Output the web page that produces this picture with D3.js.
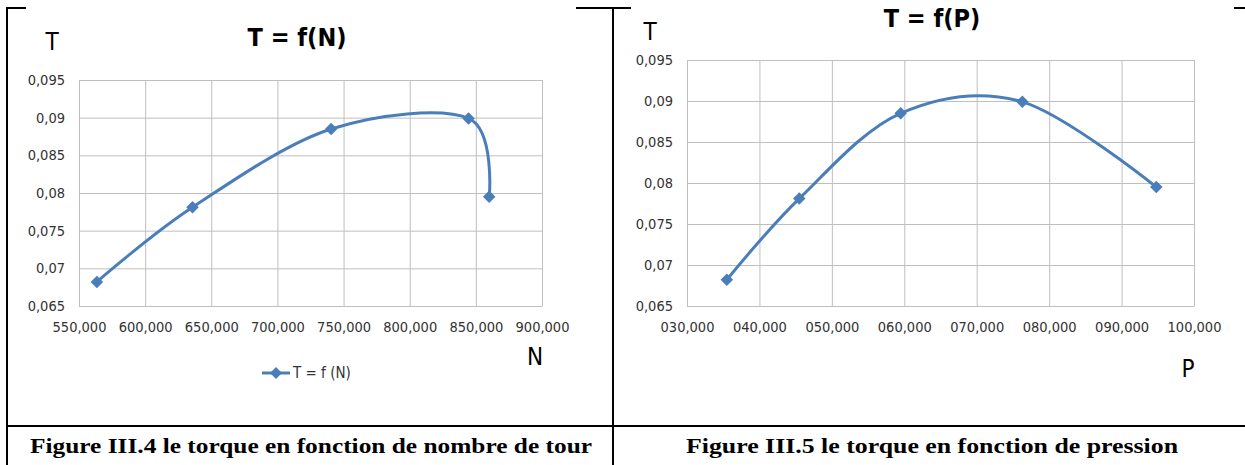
<!DOCTYPE html>
<html>
<head>
<meta charset="utf-8">
<script src="https://cdn.jsdelivr.net/npm/d3@7"></script>
<style>
  body { margin: 0; background: #fff; }
  svg { display: block; }
  .tick text { font-family: "DejaVu Sans Condensed", "Liberation Sans Narrow", sans-serif; font-size: 14.5px; fill: #333; }
</style>
</head>
<body>
<svg width="1245" height="465"></svg>
<script>
// values
const nValues = [563.5, 635.8, 740.6, 844.5, 860.1];   // N (tours)
const pValues = [35.5, 45.5, 59.5, 76.3, 94.8];        // P (pression)
const tValues = [0.0682, 0.0781, 0.0885, 0.0899, 0.0795]; // T (torque)
const nTicks = [550, 600, 650, 700, 750, 800, 850, 900];
const pTicks = [30, 40, 50, 60, 70, 80, 90, 100];
const tTicks = [0.065, 0.07, 0.075, 0.08, 0.085, 0.09, 0.095];
const captions = ["Figure III.4 le torque en fonction de nombre de tour",
                  "Figure III.5 le torque en fonction de pression"];

const svg = d3.select("svg");
const blue = "#4a7ebb", grid = "#bfbfbf";
const narrow = "'DejaVu Sans Condensed', sans-serif";
const comma = s => s.replace(".", ",");

// table frame lines
const frame = [
  [7, 8, 26, 8], [7, 7, 7, 465],
  [576, 8, 631, 8], [613, 8, 613, 465],
  [1234, 8, 1245, 8], [7, 426, 1245, 426]
];
svg.selectAll(".frame").data(frame).enter().append("line")
  .attr("x1", d => d[0]).attr("y1", d => d[1])
  .attr("x2", d => d[2]).attr("y2", d => d[3])
  .attr("stroke", "#000").attr("stroke-width", 2);

// captions under the charts
svg.selectAll(".caption").data(captions).enter().append("text")
  .attr("x", (d, i) => i === 0 ? 311 : 932)
  .attr("y", 453)
  .attr("text-anchor", "middle")
  .attr("textLength", (d, i) => i === 0 ? 562 : 492)
  .attr("lengthAdjust", "spacingAndGlyphs")
  .style("font", "bold 22px 'Liberation Serif', serif")
  .text(d => d);

const panels = [
  { xs: nValues, xTicks: nTicks, xFmt: d => comma(d3.format(".3f")(d)),
    left: 79, right: 542, top: 80, bottom: 306,
    title: "T = f(N)", titleX: 297, titleY: 46, tX: 52, tY: 50,
    xLabel: "N", xlX: 535, xlY: 365, legend: true },
  { xs: pValues, xTicks: pTicks, xFmt: d => comma(d3.format("07.3f")(d)),
    left: 687, right: 1194, top: 60, bottom: 306,
    title: "T = f(P)", titleX: 932, titleY: 27, tX: 650, tY: 40,
    xLabel: "P", xlX: 1188, xlY: 377, legend: false }
];

panels.forEach(p => {
  const x = d3.scaleLinear().domain(d3.extent(p.xTicks)).range([p.left, p.right]);
  const y = d3.scaleLinear().domain(d3.extent(tTicks)).range([p.bottom, p.top]);
  const g = svg.append("g");

  // x axis with vertical gridlines
  g.append("g")
   .attr("transform", `translate(0,${p.bottom})`)
   .call(d3.axisBottom(x).tickValues(p.xTicks).tickFormat(p.xFmt)
         .tickSizeInner(-(p.bottom - p.top)).tickSizeOuter(0).tickPadding(16))
   .call(a => a.select(".domain").attr("stroke", grid))
   .call(a => a.selectAll(".tick line").attr("stroke", grid));

  // y axis with horizontal gridlines
  g.append("g")
   .attr("transform", `translate(${p.left},0)`)
   .call(d3.axisLeft(y).tickValues(tTicks).tickFormat(d => comma(d3.format(".3~f")(d)))
         .tickSizeInner(-(p.right - p.left)).tickSizeOuter(0).tickPadding(14))
   .call(a => a.select(".domain").attr("stroke", grid))
   .call(a => a.selectAll(".tick line").attr("stroke", grid));

  const pts = p.xs.map((v, i) => [v, tValues[i]]);

  g.append("path")
   .datum(pts)
   .attr("fill", "none")
   .attr("stroke", blue)
   .attr("stroke-width", 3)
   .attr("d", d3.line().x(d => x(d[0])).y(d => y(d[1])).curve(d3.curveCardinal.tension(0)));

  g.selectAll(".pt").data(pts).enter().append("path")
   .attr("transform", d => `translate(${x(d[0])},${y(d[1])}) rotate(45)`)
   .attr("d", d3.symbol(d3.symbolSquare, 78))
   .attr("fill", blue);

  // titles and axis letters
  g.append("text").attr("x", p.titleX).attr("y", p.titleY)
   .attr("text-anchor", "middle")
   .style("font", "bold 25px " + narrow)
   .text(p.title);
  g.append("text").attr("x", p.tX).attr("y", p.tY)
   .attr("text-anchor", "middle")
   .style("font", "24px " + narrow)
   .text("T");
  g.append("text").attr("x", p.xlX).attr("y", p.xlY)
   .attr("text-anchor", "middle")
   .style("font", "24px " + narrow)
   .text(p.xLabel);

  if (p.legend) {
    const lg = g.append("g").attr("transform", "translate(262,373)");
    lg.append("line").attr("x1", 0).attr("x2", 28).attr("stroke", blue).attr("stroke-width", 3);
    lg.append("path").attr("transform", "translate(14,0) rotate(45)")
      .attr("d", d3.symbol(d3.symbolSquare, 70)).attr("fill", blue);
    lg.append("text").attr("x", 31).attr("y", 5)
      .style("font", "15px " + narrow).attr("fill", "#333")
      .text("T = f (N)");
  }
});
</script>
</body>
</html>
